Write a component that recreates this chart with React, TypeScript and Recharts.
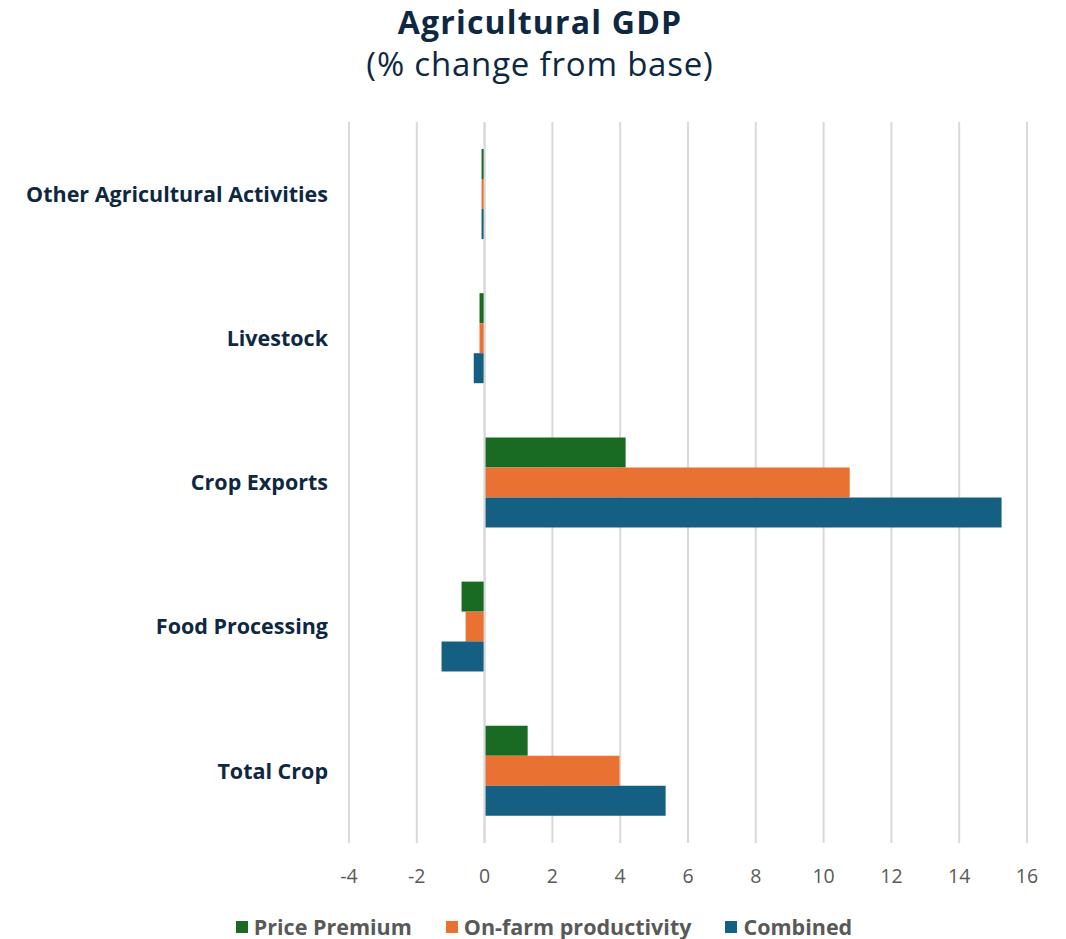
import { BarChart, Bar, XAxis, YAxis, CartesianGrid, ReferenceLine } from 'recharts';

const categories = [
  'Other Agricultural Activities',
  'Livestock',
  'Crop Exports',
  'Food Processing',
  'Total Crop',
];
const pricePremium = [-0.09, -0.15, 4.16, -0.68, 1.27];
const onFarm = [-0.09, -0.15, 10.77, -0.56, 3.98];
const combined = [-0.09, -0.32, 15.25, -1.27, 5.34];
const xTicks = [-4, -2, 0, 2, 4, 6, 8, 10, 12, 14, 16];

const series = [
  { key: 'pricePremium', name: 'Price Premium', color: '#196B24' },
  { key: 'onFarm', name: 'On-farm productivity', color: '#E97132' },
  { key: 'combined', name: 'Combined', color: '#156082' },
];

const data = categories.map((name, i) => ({
  name,
  pricePremium: pricePremium[i],
  onFarm: onFarm[i],
  combined: combined[i],
}));

const FONT = '"Open Sans", Lato, sans-serif';
const NAVY = '#0E2841';
const GREY = '#595959';

export default function App() {
  return (
    <div style={{ position: 'absolute', left: 0, top: 0, width: 1066, height: 939, background: '#fff', fontFamily: FONT }}>
      <div style={{ position: 'absolute', top: 0, width: 1080, textAlign: 'center', color: NAVY, fontWeight: 700, fontSize: 32, letterSpacing: 1.2, lineHeight: '44px' }}>
        Agricultural GDP
      </div>
      <div style={{ position: 'absolute', top: 44, width: 1080, textAlign: 'center', color: NAVY, fontSize: 33, letterSpacing: 0.8, lineHeight: '40px' }}>
        (% change from base)
      </div>
      <div style={{ position: 'absolute', left: 0, top: 0 }}>
        <BarChart width={1066} height={939} data={data} layout="vertical"
          margin={{ top: 122, right: 39, bottom: 56, left: 0 }}
          barSize={30} barGap={0}>
          <CartesianGrid horizontal={false} stroke="#D9D9D9" strokeWidth={2} />
          <XAxis type="number" domain={[-4, 16]} ticks={xTicks} height={40}
            axisLine={false} tickLine={false} tickMargin={20}
            tick={{ fill: GREY, fontSize: 19.5, fontFamily: FONT }} />
          <YAxis type="category" dataKey="name" width={349}
            axisLine={false} tickLine={false} tickMargin={15}
            tick={{ fill: NAVY, fontSize: 21.5, fontWeight: 700, fontFamily: FONT }} />
          {series.map((s) => (
            <Bar key={s.key} dataKey={s.key} name={s.name} fill={s.color} isAnimationActive={false} />
          ))}
          <ReferenceLine x={0} stroke="#D9D9D9" strokeWidth={2} />
        </BarChart>
      </div>
      <div style={{ position: 'absolute', top: 914, width: 1088, display: 'flex', justifyContent: 'center', gap: 34 }}>
        {series.map((s) => (
          <div key={s.key} style={{ display: 'flex', alignItems: 'center', gap: 6 }}>
            <span style={{ width: 12, height: 12, background: s.color, display: 'inline-block' }} />
            <span style={{ color: GREY, fontWeight: 700, fontSize: 21.5, lineHeight: '26px' }}>{s.name}</span>
          </div>
        ))}
      </div>
    </div>
  );
}
